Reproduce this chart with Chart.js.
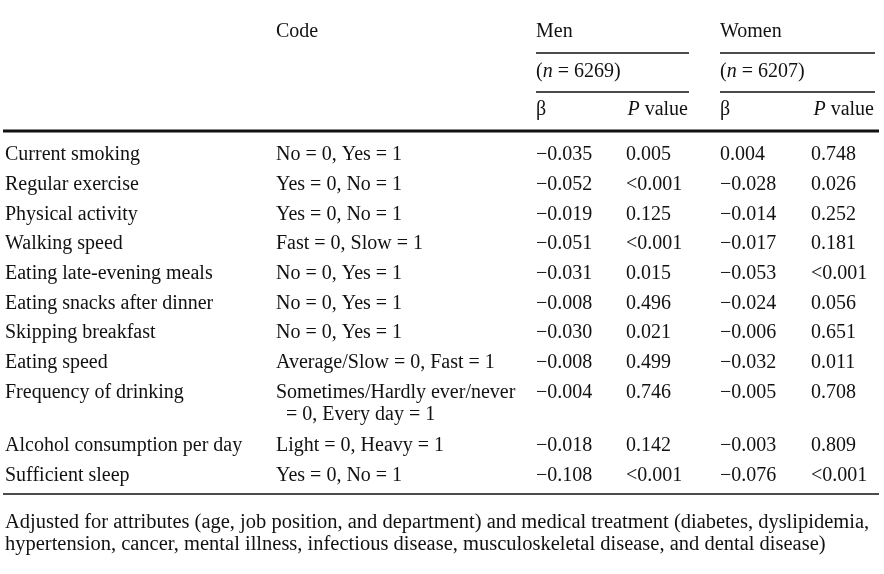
<!DOCTYPE html>
<html>
<head>
<meta charset="utf-8">
<script src="https://cdn.jsdelivr.net/npm/chart.js@4.4.1/dist/chart.umd.min.js"></script>
<style>
    body { margin: 0; background: #fff; }
    #tableChart { display: block; }
</style>
</head>
<body>
<canvas id="tableChart" width="884" height="574"></canvas>
<script>
// Table content
const factors = ['Current smoking', 'Regular exercise', 'Physical activity', 'Walking speed',
    'Eating late-evening meals', 'Eating snacks after dinner', 'Skipping breakfast', 'Eating speed',
    'Frequency of drinking', 'Alcohol consumption per day', 'Sufficient sleep'];
const codes = ['No = 0, Yes = 1', 'Yes = 0, No = 1', 'Yes = 0, No = 1', 'Fast = 0, Slow = 1',
    'No = 0, Yes = 1', 'No = 0, Yes = 1', 'No = 0, Yes = 1', 'Average/Slow = 0, Fast = 1',
    'Sometimes/Hardly ever/never\n  = 0, Every day = 1', 'Light = 0, Heavy = 1', 'Yes = 0, No = 1'];
const menBeta = ['−0.035', '−0.052', '−0.019', '−0.051', '−0.031', '−0.008', '−0.030', '−0.008', '−0.004', '−0.018', '−0.108'];
const menP = ['0.005', '<0.001', '0.125', '<0.001', '0.015', '0.496', '0.021', '0.499', '0.746', '0.142', '<0.001'];
const womenBeta = ['0.004', '−0.028', '−0.014', '−0.017', '−0.053', '−0.024', '−0.006', '−0.032', '−0.005', '−0.003', '−0.076'];
const womenP = ['0.748', '0.026', '0.252', '0.181', '<0.001', '0.056', '0.651', '0.011', '0.708', '0.809', '<0.001'];
const groups = ['Men', 'Women'];
const groupN = ['6269', '6207'];
const footnote = [
    'Adjusted for attributes (age, job position, and department) and medical treatment (diabetes, dyslipidemia,',
    'hypertension, cancer, mental illness, infectious disease, musculoskeletal disease, and dental disease)'
];

// Layout (canvas units)
const colX = [5, 276, 536, 626, 720, 811];
const rowY = [154, 184, 214, 243, 273, 303, 332, 362, 392, 445, 475];
const FONT = '"Liberation Serif", "Times New Roman", serif';
const FS = 20;

function col(values, x) {
    return values.map((v, i) => ({ x: x, y: rowY[i] + 1, text: v }));
}

const columns = [factors, codes, menBeta, menP, womenBeta, womenP];

const tableText = {
    id: 'tableText',
    afterDatasetsDraw(chart) {
        const ctx = chart.ctx;
        const xs = chart.scales.x;
        const ys = chart.scales.y;
        const px = v => xs.getPixelForValue(v);
        const py = v => ys.getPixelForValue(v);

        ctx.save();
        ctx.fillStyle = '#111';
        ctx.textBaseline = 'middle';
        ctx.font = FS + 'px ' + FONT;

        // cells
        chart.data.datasets.forEach((ds, d) => {
            const meta = chart.getDatasetMeta(d);
            meta.data.forEach((pt, i) => {
                const lines = String(ds.data[i].text).split('\n');
                lines.forEach((line, k) => {
                    ctx.fillText(line, pt.x, pt.y + k * 22);
                });
            });
        });

        // header
        ctx.fillText('Code', px(276), py(32));
        groups.forEach((g, i) => {
            const x0 = i === 0 ? 536 : 720;
            const x1 = i === 0 ? 689 : 875;
            ctx.fillText(g, px(x0), py(32));
            // (n = ...)
            let x = px(x0);
            ctx.fillText('(', x, py(72));
            x += ctx.measureText('(').width;
            ctx.font = 'italic ' + FS + 'px ' + FONT;
            ctx.fillText('n', x, py(72));
            x += ctx.measureText('n').width;
            ctx.font = FS + 'px ' + FONT;
            const rest = ' = ' + groupN[i] + ')';
            ctx.fillText(rest, x, py(72));

            ctx.fillText('β', px(x0), py(110));
            const vw = ctx.measureText(' value').width;
            ctx.textAlign = 'right';
            ctx.fillText(' value', px(x1 - 1), py(110));
            ctx.font = 'italic ' + FS + 'px ' + FONT;
            ctx.fillText('P', px(x1 - 1) - vw, py(110));
            ctx.font = FS + 'px ' + FONT;
            ctx.textAlign = 'left';

            ctx.strokeStyle = '#111';
            ctx.lineWidth = 1.3;
            [53, 92].forEach(yy => {
                ctx.beginPath();
                ctx.moveTo(px(x0), py(yy));
                ctx.lineTo(px(x1), py(yy));
                ctx.stroke();
            });
        });

        // rules
        ctx.lineWidth = 3;
        ctx.beginPath();
        ctx.moveTo(px(3), py(131));
        ctx.lineTo(px(879), py(131));
        ctx.stroke();
        ctx.lineWidth = 1.3;
        ctx.beginPath();
        ctx.moveTo(px(3), py(494));
        ctx.lineTo(px(879), py(494));
        ctx.stroke();

        // footnote
        ctx.font = '20.5px ' + FONT;
        footnote.forEach((line, i) => {
            ctx.fillText(line, px(5), py(523 + i * 22));
        });
        ctx.restore();
    }
};

new Chart(document.getElementById('tableChart'), {
    type: 'scatter',
    data: {
        datasets: columns.map((c, i) => ({
            data: col(c, colX[i]),
            pointRadius: 0,
            pointHoverRadius: 0
        }))
    },
    options: {
        responsive: false,
        animation: false,
        devicePixelRatio: 1,
        layout: { padding: 0 },
        plugins: { legend: { display: false }, tooltip: { enabled: false } },
        events: [],
        scales: {
            x: { type: 'linear', min: 0, max: 884, display: false },
            y: { type: 'linear', min: 0, max: 574, reverse: true, display: false }
        }
    },
    plugins: [tableText]
});
</script>
</body>
</html>
